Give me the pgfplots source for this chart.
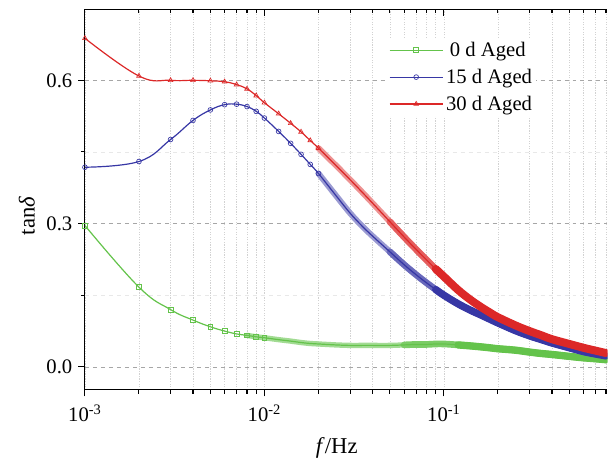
\documentclass[border=0pt]{standalone}
\usepackage{fontspec}
\setmainfont{Liberation Serif}
\usepackage{pgfplots}
\usepackage{pgfplotstable}
\pgfplotsset{compat=1.18}
\definecolor{cgreen}{RGB}{100,195,75}
\definecolor{cblue}{RGB}{55,55,165}
\definecolor{cred}{RGB}{220,40,40}

\pgfplotstableread{
f      d0     d15    d30
0.001  0.296  0.418  0.688
0.002  0.167  0.430  0.609
0.003  0.120  0.476  0.600
0.004  0.098  0.516  0.600
0.005  0.084  0.538  0.599
0.006  0.075  0.549  0.597
0.007  0.069  0.550  0.591
0.008  0.066  0.545  0.582
0.009  0.063  0.535  0.568
0.010  0.061  0.521  0.553
0.012  0.057  0.493  0.530
0.014  0.054  0.468  0.510
0.016  0.051  0.445  0.492
0.018  0.049  0.424  0.474
0.020  0.048  0.405  0.458
0.025  0.046  0.359  0.422
0.030  0.045  0.322  0.392
0.035  0.045  0.295  0.366
0.040  0.045  0.274  0.343
0.050  0.045  0.241  0.304
0.060  0.046  0.214  0.272
0.070  0.047  0.193  0.246
0.080  0.047  0.176  0.224
0.090  0.048  0.162  0.205
0.100  0.048  0.150  0.189
0.120  0.046  0.132  0.161
0.140  0.044  0.119  0.141
0.160  0.042  0.109  0.126
0.180  0.040  0.100  0.114
0.200  0.038  0.092  0.104
0.250  0.035  0.076  0.087
0.300  0.031  0.065  0.075
0.350  0.028  0.057  0.066
0.400  0.026  0.050  0.058
0.500  0.022  0.040  0.048
0.600  0.019  0.032  0.040
0.700  0.017  0.027  0.034
0.800  0.015  0.023  0.029
}\datatable

\begin{document}
\begin{tikzpicture}
\begin{axis}[name=ax,
  width=392.25pt, height=285.75pt, scale only axis,
  xmode=log, xmin=0.001, xmax=0.815, ymin=-0.048, ymax=0.749,
  xtick={0.001,0.01,0.1},
  minor xtick={0.002,0.003,0.004,0.005,0.006,0.007,0.008,0.009,0.02,0.03,0.04,0.05,0.06,0.07,0.08,0.09,0.2,0.3,0.4,0.5,0.6,0.7,0.8},
  major tick length=5pt, minor tick length=3pt,
  tick style={black, line width=0.8pt},
  axis line style={line width=0.8pt},
  axis x line*=bottom, axis y line*=left, tick align=outside,
  xticklabels={10\textsuperscript{-3},10\textsuperscript{-2},10\textsuperscript{-1}},
  ytick={0,0.3,0.6}, minor ytick={0.15,0.45},
  yticklabel style={xshift=-1pt, /pgf/number format/.cd, fixed, fixed zerofill, precision=1},
  /pgf/number format/assume math mode=true,
  ticklabel style={font=\fontsize{15.5}{17}\selectfont},
  xticklabel style={yshift=-3pt},
  xmajorgrids, xminorgrids, ymajorgrids, yminorgrids,
  major x grid style={densely dotted, gray!35, line width=0.4pt},
  minor x grid style={densely dotted, gray!35, line width=0.4pt},
  major y grid style={dashed, gray!70, line width=0.5pt},
  minor y grid style={dashed, gray!18, line width=0.4pt},
  xlabel={\textit{f}/Hz}, ylabel={tan\textit{δ}},
  xlabel style={font=\fontsize{17}{19}\selectfont, at={(axis description cs:0.482,-0.152)}, anchor=center},
  ylabel style={font=\fontsize{17}{19}\selectfont, at={(axis description cs:-0.111,0.457)}, anchor=center},
  legend style={at={(axis description cs:0.579,0.925)}, anchor=north west, draw=none, fill=white,
    font=\fontsize{15.5}{17}\selectfont, row sep=4pt, inner sep=1pt},
  legend cell align=left,
  legend image code/.code={\draw[mark indices={2}] plot coordinates {(0cm,0cm) (0.7cm,0cm) (1.4cm,0cm)};},
  band/.style={smooth, tension=0.6, no marks, forget plot, line cap=round, line join=round},
  thin/.style={line width=0.9pt, smooth, tension=0.7, forget plot, mark options={solid, line width=0.5pt}},
]
% 0 d
\addplot[cgreen!60, line width=4pt, band, skip coords between index={0}{7}] table[x=f, y=d0] {\datatable};
\addplot[cgreen!85, line width=5pt, band, skip coords between index={0}{20}] table[x=f, y=d0] {\datatable};
\addplot[cgreen, line width=5.5pt, band, skip coords between index={0}{25}] table[x=f, y=d0] {\datatable};
\addplot[cgreen, thin, mark=square, mark size=1.8pt, mark indices={1,...,10}] table[x=f, y=d0] {\datatable};
% 15 d
\addplot[cblue!50, line width=4.5pt, band, skip coords between index={0}{14}] table[x=f, y=d15] {\datatable};
\addplot[cblue!75, line width=5pt, band, skip coords between index={0}{19}] table[x=f, y=d15] {\datatable};
\addplot[cblue, line width=5.5pt, band, skip coords between index={0}{23}] table[x=f, y=d15] {\datatable};
\addplot[cblue, thin, mark=o, mark size=1.8pt, mark indices={1,...,15}] table[x=f, y=d15] {\datatable};
% 30 d
\addplot[cred!50, line width=4.5pt, band, skip coords between index={0}{14}] table[x=f, y=d30] {\datatable};
\addplot[cred!75, line width=5pt, band, skip coords between index={0}{19}] table[x=f, y=d30] {\datatable};
\addplot[cred, line width=6pt, band, skip coords between index={0}{23}] table[x=f, y=d30] {\datatable};
\addplot[cred, thin, mark=triangle, mark size=2pt, mark indices={1,...,15}] table[x=f, y=d30] {\datatable};
\addlegendimage{cgreen, line width=0.9pt, mark=square, mark size=1.8pt, mark options={solid, line width=0.5pt}}
\addlegendentry{\kern3pt0 d Aged}
\addlegendimage{cblue, line width=0.9pt, mark=o, mark size=1.8pt, mark options={solid, line width=0.5pt}}
\addlegendentry{15 d Aged}
\addlegendimage{cred, line width=0.9pt, mark=triangle, mark size=2pt, mark options={solid, line width=0.5pt}}
\addlegendentry{30 d Aged}
\end{axis}
\begin{axis}[
  width=392.25pt, height=285.75pt, scale only axis,
  xmode=log, xmin=0.001, xmax=0.815, ymin=-0.048, ymax=0.749,
  xtick={0.001,0.01,0.1},
  minor xtick={0.002,0.003,0.004,0.005,0.006,0.007,0.008,0.009,0.02,0.03,0.04,0.05,0.06,0.07,0.08,0.09,0.2,0.3,0.4,0.5,0.6,0.7,0.8},
  major tick length=5pt, minor tick length=3pt,
  tick style={black, line width=0.8pt},
  axis line style={line width=0.8pt},
  axis x line*=top, axis y line=none, tick align=inside,
  xticklabels={},
]
\end{axis}
\path ([xshift=-63.75pt,yshift=-51.75pt]ax.south west) rectangle ([yshift=6pt]ax.north east);
\end{tikzpicture}
\end{document}
